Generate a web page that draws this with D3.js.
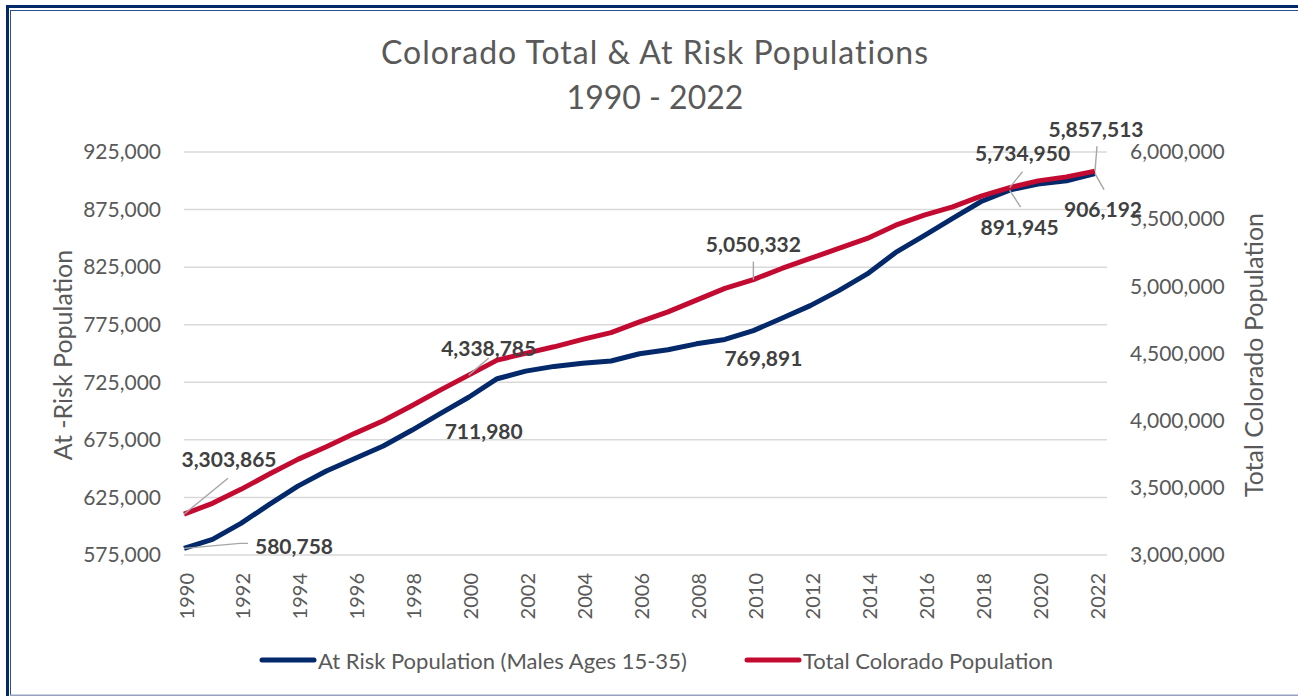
<!DOCTYPE html>
<html>
<head>
<meta charset="utf-8">
<script src="https://cdn.jsdelivr.net/npm/d3@7"></script>
<style>
  html, body { margin: 0; padding: 0; background: #fff; }
  svg { display: block; font-family: Lato, "Open Sans", sans-serif; }
</style>
</head>
<body>
<svg id="chart" width="1298" height="696"></svg>
<script>
// ---- data ----
const years = [1990,1991,1992,1993,1994,1995,1996,1997,1998,1999,2000,2001,2002,2003,2004,2005,2006,2007,2008,2009,2010,2011,2012,2013,2014,2015,2016,2017,2018,2019,2020,2021,2022];
const atRisk = [580758,588600,602500,618900,634800,648000,658800,669700,683300,697800,711980,728100,734700,738800,741600,743500,749800,753200,758400,762200,769891,780600,791600,804600,819100,837800,852300,867300,882000,891945,897100,900000,906192];
const totalPop = [3303865,3384700,3488800,3602700,3712000,3806000,3905500,3999000,4110900,4227700,4338785,4450900,4500700,4549900,4604900,4655000,4735900,4810300,4897300,4984400,5050332,5133000,5207600,5282000,5356400,5455400,5529800,5591500,5671200,5734950,5785000,5814800,5857513];
const leftTicks = [575000,625000,675000,725000,775000,825000,875000,925000];
const rightTicks = [3000000,3500000,4000000,4500000,5000000,5500000,6000000];
const xTickYears = [1990,1992,1994,1996,1998,2000,2002,2004,2006,2008,2010,2012,2014,2016,2018,2020,2022];
const seriesNames = ["At Risk Population (Males Ages 15-35)", "Total Colorado Population"];
const titleLines = ["Colorado Total & At Risk Populations", "1990 - 2022"];
const labelledRisk = [1990, 2000, 2010, 2019, 2022];
const labelledTotal = [1990, 2000, 2010, 2019, 2022];

const BLUE = "#03296a", RED = "#c30b32", GRID = "#d9d9d9", TXT = "#595959", LBL = "#404040", LEAD = "#a6a6a6";

const svg = d3.select("#chart");

// border
svg.append("rect").attr("x", 6).attr("y", 5).attr("width", 1292).attr("height", 3).attr("fill", "#022a6b");
svg.append("rect").attr("x", 6).attr("y", 5).attr("width", 3).attr("height", 691).attr("fill", "#022a6b");
svg.append("rect").attr("x", 10).attr("y", 10).attr("width", 1288).attr("height", 1).attr("fill", "#2b4f8f");
svg.append("rect").attr("x", 10).attr("y", 10).attr("width", 1).attr("height", 686).attr("fill", "#2b4f8f");
svg.append("rect").attr("x", 10).attr("y", 694.5).attr("width", 1288).attr("height", 1.5).attr("fill", "#94a2bf");

// scales
const x = d3.scaleLinear().domain([1990, 2022]).range([184, 1095]);
const yL = d3.scaleLinear().domain([575000, 925000]).range([555, 152]);
const yR = d3.scaleLinear().domain([3000000, 6000000]).range([555, 152]);
const fmt = d3.format(",");

// gridlines
svg.append("g").selectAll("line").data(leftTicks).join("line")
  .attr("x1", 184).attr("x2", 1107)
  .attr("y1", d => yL(d)).attr("y2", d => yL(d))
  .attr("stroke", GRID).attr("stroke-width", 1.5);

// left axis
const axL = svg.append("g").attr("transform", "translate(184,0)")
  .call(d3.axisLeft(yL).tickValues(leftTicks).tickFormat(fmt).tickSize(0).tickPadding(23));
axL.select(".domain").remove();
axL.selectAll("text").attr("font-size", 21).attr("fill", TXT).attr("font-family", "Lato, sans-serif");

// right axis
const axR = svg.append("g").attr("transform", "translate(1107,0)")
  .call(d3.axisRight(yR).tickValues(rightTicks).tickFormat(fmt).tickSize(0).tickPadding(23));
axR.select(".domain").remove();
axR.selectAll("text").attr("font-size", 21).attr("fill", TXT).attr("font-family", "Lato, sans-serif");

// x axis labels (rotated)
const axX = svg.append("g").attr("transform", "translate(0,555)")
  .call(d3.axisBottom(x).tickValues(xTickYears).tickFormat(d3.format("d")).tickSize(0));
axX.select(".domain").remove();
axX.selectAll("text")
  .attr("font-size", 20).attr("fill", TXT).attr("font-family", "Lato, sans-serif")
  .attr("text-anchor", "end").attr("dy", null).attr("y", 0)
  .attr("transform", "translate(1,18) rotate(-90)")
  .attr("dominant-baseline", "central")
  .attr("x", 0);

// axis titles
svg.append("text").attr("transform", "translate(62,355) rotate(-90)")
  .attr("text-anchor", "middle").attr("dominant-baseline", "central")
  .attr("font-size", 25).attr("fill", TXT).text("At -Risk Population");
svg.append("text").attr("transform", "translate(1253,355) rotate(-90)")
  .attr("text-anchor", "middle").attr("dominant-baseline", "central")
  .attr("font-size", 25).attr("fill", TXT).text("Total Colorado Population");

// title
svg.append("text").attr("x", 655).attr("y", 64).attr("text-anchor", "middle")
  .attr("font-size", 32).attr("letter-spacing", 1).attr("fill", TXT).text(titleLines[0]);
svg.append("text").attr("x", 655).attr("y", 109).attr("text-anchor", "middle")
  .attr("font-size", 32).attr("fill", TXT).text(titleLines[1]);

// lines
const riskData = years.map((y, i) => ({ year: y, v: atRisk[i] }));
const totData = years.map((y, i) => ({ year: y, v: totalPop[i] }));
svg.append("path").datum(riskData)
  .attr("d", d3.line().x(d => x(d.year)).y(d => yL(d.v)))
  .attr("fill", "none").attr("stroke", BLUE).attr("stroke-width", 5).attr("stroke-linejoin", "round");
svg.append("path").datum(totData)
  .attr("d", d3.line().x(d => x(d.year)).y(d => yR(d.v)))
  .attr("fill", "none").attr("stroke", RED).attr("stroke-width", 5).attr("stroke-linejoin", "round");

// data labels with leader lines (offsets relative to the point)
const riskLabelPos = {
  1990: { dx: 110, dy: -3, leader: [[0,0],[56,-5],[64,-5]] },
  2000: { dx: 15, dy: 33, leader: null },
  2010: { dx: 10, dy: 27, leader: null },
  2019: { dx: 10, dy: 36, leader: [[0,0],[11,17]] },
  2022: { dx: 8, dy: 35, leader: [[0,0],[9,16]] }
};
const totLabelPos = {
  1990: { dx: 45, dy: -56, leader: [[0,0],[44,-36]] },
  2000: { dx: 20, dy: -28, leader: [[0,0],[20,-17]] },
  2010: { dx: 0, dy: -36, leader: [[0,0],[0,-18]] },
  2019: { dx: 13, dy: -35, leader: [[0,0],[13,-16]] },
  2022: { dx: 1, dy: -43, leader: [[0,0],[2,-25]] }
};
function drawLabels(list, arr, yScale, pos) {
  list.forEach(yr => {
    const i = years.indexOf(yr);
    const px = x(yr), py = yScale(arr[i]);
    const p = pos[yr];
    if (p.leader) {
      svg.append("path")
        .attr("d", d3.line()(p.leader.map(q => [px + q[0], py + q[1]])))
        .attr("fill", "none").attr("stroke", LEAD).attr("stroke-width", 1.4);
    }
    svg.append("text").attr("x", px + p.dx).attr("y", py + p.dy)
      .attr("text-anchor", "middle").attr("dominant-baseline", "central")
      .attr("font-size", 21).attr("font-weight", "bold").attr("fill", LBL)
      .text(fmt(arr[i]));
  });
}
drawLabels(labelledRisk, atRisk, yL, riskLabelPos);
drawLabels(labelledTotal, totalPop, yR, totLabelPos);

// legend
const legend = [
  { name: seriesNames[0], color: BLUE, x: 260 },
  { name: seriesNames[1], color: RED, x: 745 }
];
const lg = svg.append("g");
legend.forEach(l => {
  lg.append("line").attr("x1", l.x + 2).attr("x2", l.x + 54).attr("y1", 660).attr("y2", 660)
    .attr("stroke", l.color).attr("stroke-width", 5).attr("stroke-linecap", "round");
  lg.append("text").attr("x", l.x + 58).attr("y", 660).attr("dominant-baseline", "central")
    .attr("font-size", 22).attr("fill", TXT).text(l.name);
});
</script>
</body>
</html>
